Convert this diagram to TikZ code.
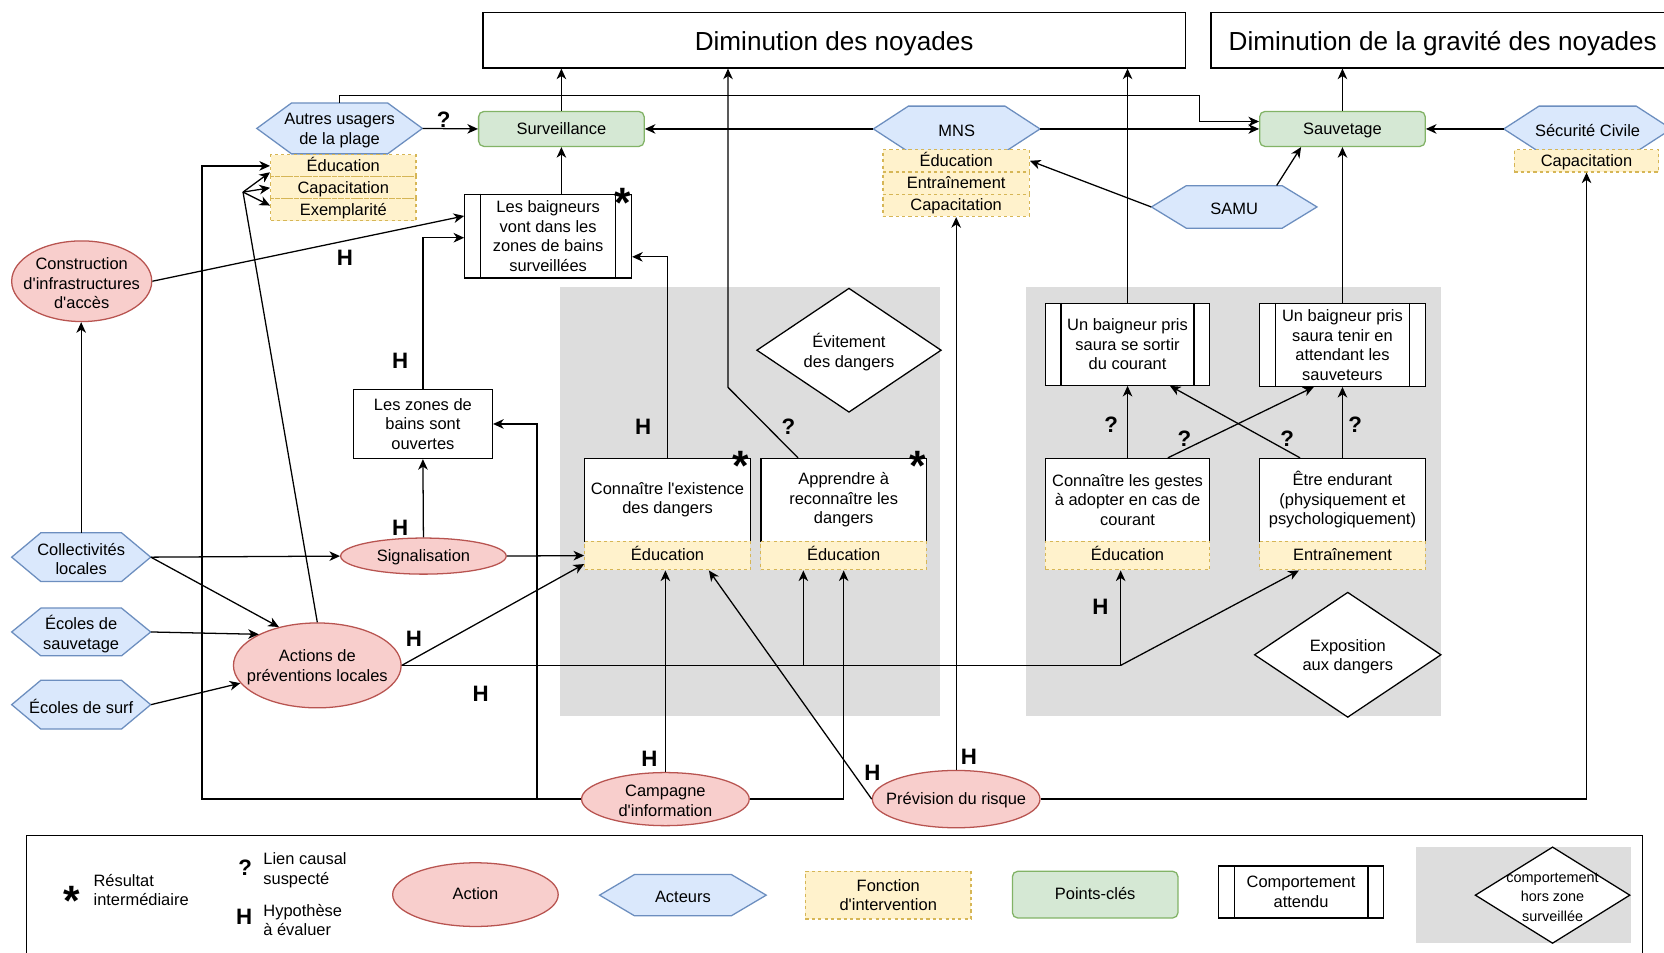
\documentclass[tikz,border=0pt]{standalone}
\usepackage{fontspec}
\setmainfont{Liberation Sans}[Ligatures=TeXOff]
\usetikzlibrary{shapes.geometric,arrows.meta,calc}
\definecolor{yfill}{HTML}{FFF2CC}
\definecolor{ystroke}{HTML}{D6B656}
\definecolor{bfill}{HTML}{DAE8FC}
\definecolor{bstroke}{HTML}{6C8EBF}
\definecolor{gfill}{HTML}{D5E8D4}
\definecolor{gstroke}{HTML}{82B366}
\definecolor{rfill}{HTML}{F8CECC}
\definecolor{rstroke}{HTML}{B85450}
\definecolor{zone}{HTML}{DDDDDD}
\newcommand{\fs}{\fontsize{15.5}{18.4}\selectfont}
\newcommand{\fbig}{\fontsize{24.6}{29}\selectfont}
\newcommand{\flab}{\fontsize{21}{24}\selectfont\bfseries}
\newcommand{\fsmall}{\fontsize{13.6}{18.5}\selectfont}
\tikzset{
  txt/.style={font=\fs, align=center, inner sep=0pt},
  lbl/.style={txt, yshift=-1.8pt},
  oneline/.style={text height=1.0em, text depth=0pt},
  box/.style={draw, fill=white, line width=1.2pt, inner sep=0pt, font=\fs, align=center},
  yel/.style={draw=ystroke, fill=yfill, dash pattern=on 3pt off 3pt, line width=1.1pt, inner sep=0pt, font=\fs, align=center},
  grn/.style={draw=gstroke, fill=gfill, rounded corners=5pt, line width=1.2pt, inner sep=0pt, font=\fs, align=center},
  act/.style={ellipse, draw=rstroke, fill=rfill, line width=1.2pt, inner sep=0pt},
  hexfill/.style={draw=bstroke, fill=bfill, line width=1.2pt},
  dia/.style={diamond, draw, fill=white, line width=1.2pt, inner sep=0pt},
  conn/.style={line width=1.2pt},
  arr/.style={conn, -{Stealth[length=10pt,width=9pt,inset=3pt]}},
  lab/.style={font=\flab, inner sep=0pt},
  starlab/.style={font=\fontsize{40}{40}\selectfont\bfseries, inner sep=0pt},
  title/.style={box, font=\fbig, text height=20pt, text depth=0pt},
}
% hexagon: name, cx, cy, half width, half height, text
\newcommand{\hexnode}[6]{%
  \path[hexfill] ({#2-#4},#3) -- ({#2-#4+0.42*#4},{#3-#5}) -- ({#2+#4-0.42*#4},{#3-#5})
     -- ({#2+#4},#3) -- ({#2+#4-0.42*#4},{#3+#5}) -- ({#2-#4+0.42*#4},{#3+#5}) -- cycle;
  \node[inner sep=0pt, minimum width={2*#4}, minimum height={2*#5}] (#1) at (#2,#3) {};
  \node[lbl] at (#1.center) {#6};
}
% process box: name, cx, cy, width, height, text
\newcommand{\procbox}[6]{%
  \node[box, minimum width=#4, minimum height=#5] (#1) at (#2,#3) {#6};
  \draw[line width=1.2pt] ($(#1.north west)+({0.1*#4},0)$) -- ($(#1.south west)+({0.1*#4},0)$)
     ($(#1.north east)+({-0.1*#4},0)$) -- ($(#1.south east)+({-0.1*#4},0)$);
}
\begin{document}
\begin{tikzpicture}[x=1pt,y=-1pt]
\clip (0,0) rectangle (1568,898);
\fill[white] (0,0) rectangle (1568,898);
% grey zones
\fill[zone] (528,270) rectangle (886,675);
\fill[zone] (967,270) rectangle (1358,675);
% top results
\node[title, minimum width=662, minimum height=52] (dn) at (786,38) {Diminution des noyades};
\node[title, minimum width=437, minimum height=52] (dg) at (1359.5,38) {Diminution de la gravité des noyades};
% actors and key points
\hexnode{autres}{320}{121}{78}{24}{Autres usagers\\de la plage}
\node[yel, oneline, minimum width=137, minimum height=20.7] (aEdu) at (323.5,156.3) {Éducation};
\node[yel, oneline, minimum width=137, minimum height=20.7] (aCap) at (323.5,177) {Capacitation};
\node[yel, oneline, minimum width=137, minimum height=20.7] (aExe) at (323.5,197.7) {Exemplarité};
\node[grn, oneline, minimum width=156, minimum height=33] (surv) at (529,121.5) {Surveillance};
\hexnode{mns}{901.5}{121.5}{78.5}{21.5}{MNS}
\node[yel, oneline, minimum width=138, minimum height=21] (mEdu) at (901,151.5) {Éducation};
\node[yel, oneline, minimum width=138, minimum height=21] (mEnt) at (901,172.5) {Entraînement};
\node[yel, oneline, minimum width=138, minimum height=21] (mCap) at (901,193.5) {Capacitation};
\node[grn, oneline, minimum width=156, minimum height=33] (sauv) at (1265,121.5) {Sauvetage};
\hexnode{secu}{1496}{121.5}{79}{21.5}{Sécurité Civile}
\node[yel, oneline, minimum width=136, minimum height=21] (sCap) at (1495,151.5) {Capacitation};
\hexnode{samu}{1163}{195}{78}{20}{SAMU}
% left column
\procbox{baig}{516.5}{222.5}{157}{79}{Les baigneurs\\vont dans les\\zones de bains\\surveillées}
\node[act, minimum width=132, minimum height=76] (constr) at (77,265) {};
\node[lbl] at (constr.center) {Construction\\d'infrastructures\\d'accès};
\node[box, minimum width=131, minimum height=65] (zones) at (398.5,399.5) {Les zones de\\bains sont\\ouvertes};
\node[act, minimum width=156, minimum height=34] (sig) at (399,524) {};
\node[txt, oneline] at (sig.center) {Signalisation};
\hexnode{coll}{76.5}{525}{65.5}{23}{Collectivités\\locales}
\hexnode{ecsauv}{76.5}{595.5}{65.5}{22.5}{Écoles de\\sauvetage}
\hexnode{ecsurf}{76.5}{664}{65.5}{23}{Écoles de surf}
\node[act, minimum width=158, minimum height=80] (act) at (299,627) {};
\node[lbl] at (act.center) {Actions de\\préventions locales};
\node[act, minimum width=158, minimum height=50] (camp) at (627,753) {};
\node[lbl] at (camp.center) {Campagne\\d'information};
\node[act, minimum width=158, minimum height=54] (prev) at (901,753) {};
\node[txt, oneline] at (prev.center) {Prévision du risque};
% zone 1
\node[dia, minimum width=174, minimum height=117] (evit) at (800,330) {};
\node[lbl] at (evit.center) {Évitement\\des dangers};
\node[box, minimum width=156, minimum height=78] (cex) at (629,471) {Connaître l'existence\\des dangers};
\node[yel, oneline, minimum width=156, minimum height=27] (cEdu) at (629,523.5) {Éducation};
\node[box, minimum width=156, minimum height=78] (apr) at (795,471) {Apprendre à\\reconnaître les\\dangers};
\node[yel, oneline, minimum width=156, minimum height=27] (aprEdu) at (795,523.5) {Éducation};
% zone 2
\procbox{sortir}{1062.5}{324.5}{155}{77}{Un baigneur pris\\saura se sortir\\du courant}
\procbox{tenir}{1265}{325}{156}{78}{Un baigneur pris\\saura tenir en\\attendant les\\sauveteurs}
\node[box, minimum width=155, minimum height=78] (gestes) at (1062.5,471) {Connaître les gestes\\à adopter en cas de\\courant};
\node[yel, oneline, minimum width=155, minimum height=27] (gEdu) at (1062.5,523.5) {Éducation};
\node[box, minimum width=156, minimum height=78] (endu) at (1265,471) {Être endurant\\(physiquement et\\psychologiquement)};
\node[yel, oneline, minimum width=156, minimum height=27] (eEnt) at (1265,523.5) {Entraînement};
\node[dia, minimum width=176, minimum height=118] (expo) at (1270,617) {};
\node[lbl] at (expo.center) {Exposition\\aux dangers};
% stars
\node[starlab] (st1) at (587,191) {*};
\node[starlab] (st2) at (698,439) {*};
\node[starlab] (st3) at (865,439) {*};
% connectors
\coordinate (k1) at (1130,90);
\coordinate (fan) at (229,181);
\coordinate (j1) at (506,753);
\coordinate (j2) at (1056,627);
\coordinate (j3) at (757,627);
\coordinate (k2) at (686,365);
\draw[arr] (surv.north) -- (surv.north |- dn.south);
\draw[arr] (autres.north) |- (k1) |- ($(sauv.west)+(0,-7)$);
\draw[arr] (autres.east) -- (surv.west);
\draw[arr] (mns.west) -- (surv.east);
\draw[arr] (mns.east) -- (sauv.west);
\draw[arr] (secu.west) -- (sauv.east);
\draw[arr] (sauv.north) -- (sauv.north |- dg.south);
\draw[arr] ($(samu.north)+(40,0)$) -- ($(sauv.south)+(-39,0)$);
\draw[arr] (samu.west) -- (mEdu.east);
\draw[arr] (surv.south |- baig.north) -- (surv.south);
\draw[arr] (constr.east) -- ($(baig.west)+(0,-19)$);
\draw[arr] (zones.north) |- ($(baig.west)+(0,1.5)$);
\draw[arr] (sig.north) -- (zones.south);
\draw[arr] (coll.east) -- (sig.west);
\draw[arr] (coll.north) -- (coll.north |- constr.south);
\draw[arr] (coll.east) -- (act.135);
\draw[arr] (ecsauv.east) -- (act.152);
\draw[arr] (ecsurf.east) -- (act.193);
\draw[conn] (act.north) -- (fan);
\draw[arr] (fan) -- ($(aEdu.west)+(0,6)$);
\draw[arr] (fan) -- (aCap.west);
\draw[arr] (fan) -- ($(aExe.west)+(0,-4)$);
\draw[arr] (camp.west) -| ($(aEdu.west)+(-64,0)$) -- (aEdu.west);
\draw[arr] (j1) |- (zones.east);
\draw[arr] (camp.north) -- (camp.north |- cEdu.south);
\draw[arr] (camp.east) -| (aprEdu.south);
\draw[arr] (sig.east) -- (cEdu.west);
\draw[arr] (act.east) -- ($(cEdu.west)+(0,8)$);
\draw[conn] (act.east) -- (j2);
\draw[arr] (j2) -- (j2 |- gEdu.south);
\draw[arr] (j2) -- ($(eEnt.south)+(-41,0)$);
\draw[arr] (j3) -- (j3 |- aprEdu.south);
\draw[arr] (prev.west) -- ($(cEdu.south)+(39,0)$);
\draw[arr] (prev.north) -- (prev.north |- mCap.south);
\draw[arr] (prev.east) -| (sCap.south);
\draw[arr] (cex.north) |- ($(baig.east)+(0,19.5)$);
\draw[arr] ($(apr.north)+(-43,0)$) -- (k2) -- (k2 |- dn.south);
\draw[arr] (sortir.north) -- (sortir.north |- dn.south);
\draw[arr] (tenir.north) -- (sauv.south);
\draw[arr] (gestes.north) -- (sortir.south);
\draw[arr] ($(gestes.north)+(38,0)$) -- ($(tenir.south)+(-27,0)$);
\draw[arr] ($(endu.north)+(-40,0)$) -- ($(sortir.south)+(40,0)$);
\draw[arr] (endu.north) -- (tenir.south);
% labels
\node[lab] (h1) at (325,243) {H};
\node[lab] (h2) at (377,340) {H};
\node[lab] (h3) at (377,497) {H};
\node[lab] (h4) at (390,602) {H};
\node[lab] (h5) at (453,654) {H};
\node[lab] (h6) at (606,402) {H};
\node[lab] (h7) at (612,715) {H};
\node[lab] (h8) at (822,728) {H};
\node[lab] (h9) at (913,713) {H};
\node[lab] (h10) at (1037,572) {H};
\node[lab] (q1) at (418,113) {?};
\node[lab] (q2) at (743,402) {?};
\node[lab] (q3) at (1047,400) {?};
\node[lab] (q4) at (1116,413) {?};
\node[lab] (q5) at (1213,413) {?};
\node[lab] (q6) at (1277,400) {?};
% legend
\draw[line width=1.2pt] (25,787) rectangle (1548,940);
\node[starlab] (lst) at (68,849) {*};
\node[lbl, align=left, anchor=west] (lres) at (88,837) {Résultat\\intermédiaire};
\node[lab] (lq) at (231,818) {?};
\node[lbl, align=left, anchor=west] (llien) at (248,818) {Lien causal\\suspecté};
\node[lab] (lh) at (230,864) {H};
\node[lbl, align=left, anchor=west] (lhyp) at (248,865) {Hypothèse\\à évaluer};
\node[act, minimum width=156, minimum height=60] (lact) at (448,843) {};
\node[txt, oneline] at (lact.center) {Action};
\hexnode{lacteurs}{643.5}{843.5}{78.5}{19.5}{Acteurs}
\node[yel, minimum width=156, minimum height=45] (lfonc) at (837,843.5) {Fonction\\d'intervention};
\node[grn, oneline, minimum width=156, minimum height=44] (lpts) at (1032,843) {Points-clés};
\procbox{lcomp}{1226}{840.5}{156}{49}{Comportement\\attendu}
\fill[zone] (1334,798) rectangle (1537,889);
\node[dia, minimum width=146, minimum height=91] (ldia) at (1463,843.5) {};
\node[lbl, font=\fsmall] at (ldia.center) {comportement\\hors zone\\surveillée};
\end{tikzpicture}
\end{document}
